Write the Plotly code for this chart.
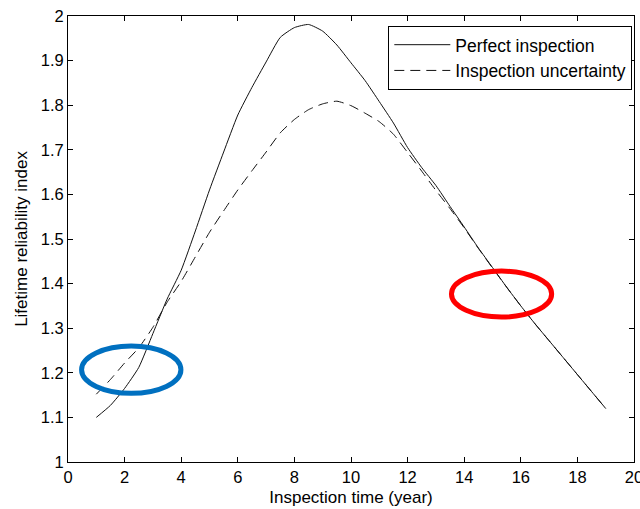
import plotly.graph_objects as go

# Inspection times (years)
years = [1.0, 1.5, 2.0, 2.5, 3.0, 3.5, 4.0, 4.5, 5.0, 5.5, 6.0, 6.5, 7.0, 7.5,
         8.0, 8.5, 9.0, 9.5, 10.0, 10.5, 11.0, 11.5, 12.0, 12.5, 13.0, 13.5,
         14.0, 14.5, 15.0, 15.5, 16.0, 16.5, 17.0, 17.5, 18.0, 18.5, 19.0]

# Lifetime reliability index, perfect inspection
perfect = [1.100, 1.127, 1.165, 1.212, 1.288, 1.365, 1.430, 1.518, 1.610, 1.695,
           1.778, 1.840, 1.897, 1.952, 1.974, 1.981, 1.966, 1.935, 1.895, 1.855,
           1.808, 1.760, 1.705, 1.660, 1.620, 1.573, 1.527, 1.480, 1.436, 1.392,
           1.350, 1.310, 1.272, 1.234, 1.196, 1.158, 1.120]

# Lifetime reliability index, with inspection uncertainty
uncertain = [1.152, 1.185, 1.222, 1.256, 1.302, 1.358, 1.405, 1.460, 1.515, 1.563,
             1.610, 1.653, 1.695, 1.738, 1.768, 1.790, 1.803, 1.809, 1.799, 1.782,
             1.763, 1.735, 1.694, 1.652, 1.609, 1.568, 1.525, 1.479, 1.435, 1.392,
             1.350, 1.310, 1.272, 1.234, 1.196, 1.158, 1.120]

x_ticks = [0, 2, 4, 6, 8, 10, 12, 14, 16, 18, 20]
y_ticks = [1, 1.1, 1.2, 1.3, 1.4, 1.5, 1.6, 1.7, 1.8, 1.9, 2]
y_tick_text = ["1", "1.1", "1.2", "1.3", "1.4", "1.5", "1.6", "1.7", "1.8", "1.9", "2"]

# Highlight ellipses: (x0, x1, y0, y1, colour)
highlights = [
    (0.48, 3.99, 1.154, 1.260, "#0070C0"),
    (13.55, 17.09, 1.325, 1.428, "#FF0000"),
]

FONT = "Liberation Sans"

fig = go.Figure()
fig.add_trace(go.Scatter(
    x=years, y=perfect, mode="lines", name="Perfect inspection",
    line=dict(color="#111111", width=1, shape="spline", smoothing=0.5),
))
fig.add_trace(go.Scatter(
    x=years, y=uncertain, mode="lines", name="Inspection uncertainty",
    line=dict(color="#111111", width=1, dash="10px,6px", shape="spline", smoothing=0.5),
))

for x0, x1, y0, y1, col in highlights:
    fig.add_shape(type="circle", xref="x", yref="y", x0=x0, x1=x1, y0=y0, y1=y1,
                  line=dict(color=col, width=5), fillcolor="rgba(0,0,0,0)")

axis_common = dict(
    showline=True, linecolor="black", linewidth=1, mirror="ticks",
    ticks="inside", ticklen=5, tickcolor="black", tickwidth=1,
    showgrid=False, zeroline=False, automargin=False,
    tickfont=dict(family=FONT, size=16.5, color="black"),
    ticklabeloverflow="allow",
)

fig.update_xaxes(range=[0, 20], tickvals=x_ticks,
                 title=dict(text="Inspection time (year)", standoff=6,
                            font=dict(family=FONT, size=17, color="black")),
                 **axis_common)
fig.update_yaxes(range=[1, 2], tickvals=y_ticks, ticktext=y_tick_text,
                 title=dict(text="Lifetime reliability index", standoff=8,
                            font=dict(family=FONT, size=17, color="black")),
                 **axis_common)

fig.update_layout(
    width=640, height=509,
    margin=dict(l=68, r=6, t=16, b=47),
    paper_bgcolor="white", plot_bgcolor="white",
    font=dict(family=FONT, size=16, color="black"),
    showlegend=True,
    legend=dict(
        x=0.997, y=0.978, xanchor="right", yanchor="top",
        bordercolor="black", borderwidth=1, bgcolor="white",
        font=dict(family=FONT, size=17.5, color="black"),
        itemwidth=56, tracegroupgap=0,
    ),
)

fig.write_html("out.html")
